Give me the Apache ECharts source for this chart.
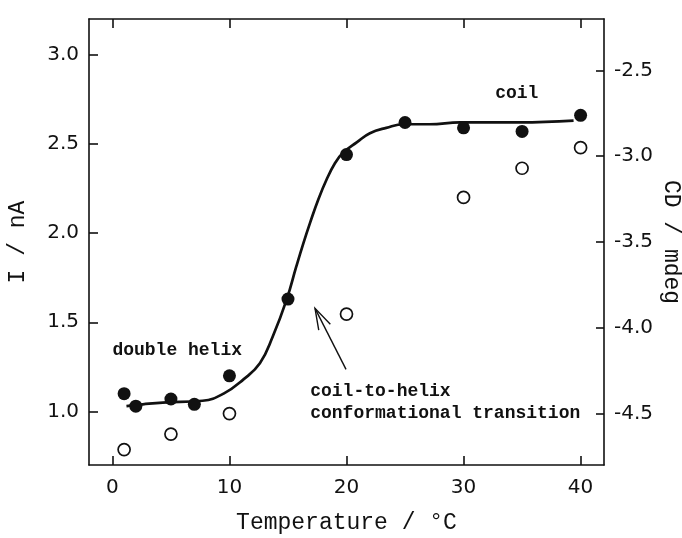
<!DOCTYPE html>
<html><head><meta charset="utf-8">
<script src="https://cdn.jsdelivr.net/npm/echarts@6/dist/echarts.min.js"></script>
<style>html,body{margin:0;padding:0;background:#fff}#c{width:682px;height:538px}</style>
</head><body><div id="c"></div>
<script>
// Filled circles: current I (nA) vs temperature
const tempI = [1, 2, 5, 7, 10, 15, 20, 25, 30, 35, 40];
const currentI = [1.10, 1.03, 1.07, 1.04, 1.20, 1.63, 2.44, 2.62, 2.59, 2.57, 2.66];
// Open circles: CD (mdeg) vs temperature
const tempCD = [1, 5, 10, 20, 30, 35, 40];
const cdValues = [-4.71, -4.62, -4.50, -3.92, -3.24, -3.07, -2.95];
// Fitted sigmoid curve
const fitT = [1.2, 2.6, 4.3, 7.7, 9.5, 11.2, 12.6, 13.7, 14.9, 15.7, 16.3, 16.9, 17.6, 18.3, 19.0, 19.7, 20.9, 22.0, 23.4, 24.9, 27.1, 29.7, 34.8, 39.4];
const fitI = [1.03, 1.04, 1.05, 1.06, 1.10, 1.18, 1.27, 1.42, 1.63, 1.81, 1.94, 2.06, 2.19, 2.30, 2.39, 2.45, 2.51, 2.56, 2.59, 2.61, 2.61, 2.62, 2.62, 2.63];
// Tick labels
const xTicks = [0, 10, 20, 30, 40];
const iTicks = [1.0, 1.5, 2.0, 2.5, 3.0];
const cdTicks = [-4.5, -4.0, -3.5, -3.0, -2.5];

const INK = '#111';
const tickFont = { fontFamily: 'DejaVu Sans', fontSize: 20, color: INK };
const nameFont = { fontFamily: 'Liberation Mono', fontSize: 23, color: INK };
const lineStyle = { color: INK, width: 1.6 };

const chart = echarts.init(document.getElementById('c'), null, { renderer: 'canvas' });
const option = {
  backgroundColor: '#fff',
  animation: false,
  grid: { left: 89, right: 78, top: 19, bottom: 73, containLabel: false, outerBoundsMode: 'none' },
  xAxis: [
    {
      type: 'value', min: -2, max: 42, position: 'bottom',
      axisLine: { show: true, onZero: false, lineStyle },
      axisTick: { show: true, inside: true, length: 9, customValues: xTicks, lineStyle },
      axisLabel: { customValues: xTicks, margin: 13, ...tickFont },
      splitLine: { show: false },
      name: 'Temperature / °C', nameLocation: 'middle', nameGap: 46, nameMoveOverlap: false, nameTextStyle: nameFont
    },
    {
      type: 'value', min: -2, max: 42, position: 'top',
      axisLine: { show: true, onZero: false, lineStyle },
      axisTick: { show: true, inside: true, length: 9, customValues: xTicks, lineStyle },
      axisLabel: { show: false },
      splitLine: { show: false }
    }
  ],
  yAxis: [
    {
      type: 'value', min: 0.7, max: 3.2, position: 'left',
      axisLine: { show: true, onZero: false, lineStyle },
      axisTick: { show: true, inside: true, length: 9, customValues: iTicks, lineStyle },
      axisLabel: { customValues: iTicks, margin: 10, formatter: v => v.toFixed(1), ...tickFont },
      splitLine: { show: false },
      name: 'I / nA', nameLocation: 'middle', nameGap: 60, nameMoveOverlap: false, nameTextStyle: nameFont
    },
    {
      type: 'value', min: -4.8, max: -2.2, position: 'right',
      axisLine: { show: true, onZero: false, lineStyle },
      axisTick: { show: true, inside: true, length: 8, customValues: cdTicks, lineStyle },
      axisLabel: { customValues: cdTicks, margin: 10, formatter: v => v.toFixed(1), ...tickFont },
      splitLine: { show: false },
      name: 'CD / mdeg', nameLocation: 'middle', nameGap: 56, nameRotate: -90, nameMoveOverlap: false,
      nameTextStyle: nameFont
    }
  ],
  series: [
    {
      type: 'line', xAxisIndex: 0, yAxisIndex: 0, z: 2,
      data: fitT.map((t, i) => [t, fitI[i]]),
      showSymbol: false, symbol: 'none', smooth: 0.45,
      lineStyle: { color: INK, width: 2.7 }
    },
    {
      type: 'scatter', xAxisIndex: 0, yAxisIndex: 0, z: 3,
      data: tempI.map((t, i) => [t, currentI[i]]),
      symbol: 'circle', symbolSize: 13,
      itemStyle: { color: INK, opacity: 1 }
    },
    {
      type: 'scatter', xAxisIndex: 0, yAxisIndex: 1, z: 3,
      data: tempCD.map((t, i) => [t, cdValues[i]]),
      symbol: 'circle', symbolSize: 12,
      itemStyle: { color: '#fff', borderColor: INK, borderWidth: 1.7, opacity: 1 }
    }
  ]
};
chart.setOption(option);

function px(x, y) { return chart.convertToPixel({ xAxisIndex: 0, yAxisIndex: 0 }, [x, y]); }
const annFont = 'bold 18px "Liberation Mono"';
const notes = [
  { text: 'double helix', at: [0.0, 1.34] },
  { text: 'coil', at: [32.7, 2.78] },
  { text: 'coil-to-helix', at: [16.9, 1.11] },
  { text: 'conformational transition', at: [16.9, 0.99] }
];
const graphics = notes.map(n => {
  const p = px(n.at[0], n.at[1]);
  return { type: 'text', x: p[0], y: p[1], style: { text: n.text, font: annFont, fill: INK, verticalAlign: 'middle' } };
});
// Arrow from label towards the transition
const tail = px(19.96, 1.236), tip = px(17.31, 1.578);
const ang = Math.atan2(tail[1] - tip[1], tail[0] - tip[0]);
const L = 22, h = 0.30;
const a1 = [tip[0] + L * Math.cos(ang - h), tip[1] + L * Math.sin(ang - h)];
const a2 = [tip[0] + L * Math.cos(ang + h), tip[1] + L * Math.sin(ang + h)];
graphics.push({ type: 'line', shape: { x1: tail[0], y1: tail[1], x2: tip[0], y2: tip[1] }, style: { stroke: INK, lineWidth: 1.4 } });
graphics.push({ type: 'polyline', shape: { points: [a1, tip, a2] }, style: { stroke: INK, lineWidth: 1.4, fill: null } });
chart.setOption({ graphic: graphics });
</script>
</body></html>
